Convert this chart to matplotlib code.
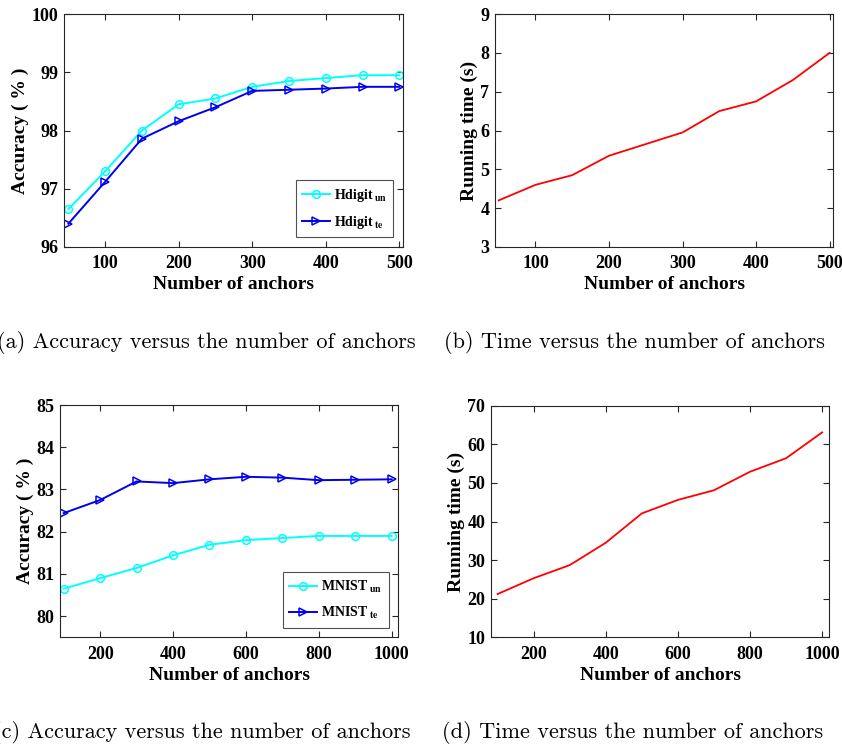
import matplotlib
matplotlib.use('Agg')
import matplotlib.pyplot as plt

# (a) Hdigit accuracy
hd_anchors = [50, 100, 150, 200, 250, 300, 350, 400, 450, 500]
hd_acc_un = [96.65, 97.3, 98.0, 98.45, 98.55, 98.75, 98.85, 98.9, 98.95, 98.95]
hd_acc_te = [96.4, 97.12, 97.86, 98.16, 98.4, 98.68, 98.7, 98.72, 98.75, 98.75]

# (b) Hdigit running time
hd_time = [4.2, 4.6, 4.85, 5.35, 5.65, 5.95, 6.5, 6.75, 7.3, 8.0]

# (c) MNIST accuracy
mn_anchors = [100, 200, 300, 400, 500, 600, 700, 800, 900, 1000]
mn_acc_un = [80.65, 80.9, 81.14, 81.44, 81.69, 81.8, 81.85, 81.9, 81.9, 81.9]
mn_acc_te = [82.44, 82.75, 83.19, 83.15, 83.24, 83.3, 83.28, 83.22, 83.23, 83.24]

# (d) MNIST running time
mn_time = [21.2, 25.3, 28.7, 34.5, 42.1, 45.6, 48.1, 52.9, 56.4, 63.1]

captions = ['(a) Accuracy versus the number of anchors',
            '(b) Time versus the number of anchors',
            '(c) Accuracy versus the number of anchors',
            '(d) Time versus the number of anchors']

plt.rcParams['font.family'] = 'Liberation Serif'
plt.rcParams['font.weight'] = 'bold'
plt.rcParams['mathtext.fontset'] = 'stix'

fig = plt.figure(figsize=(8.42, 7.5), dpi=100)

ax_a = fig.add_axes([0.076, 0.6707, 0.4026, 0.3106])
ax_b = fig.add_axes([0.5879, 0.6707, 0.4018, 0.3106])
ax_c = fig.add_axes([0.0713, 0.1503, 0.4017, 0.3097])
ax_d = fig.add_axes([0.5828, 0.1503, 0.4022, 0.3087])


def style(ax):
    ax.tick_params(direction='in', top=True, right=True, labelsize=13,
                   length=4, width=0.8, colors='#262626', labelcolor='black', pad=4)
    ax.tick_params(axis='x', pad=6)
    for s in ax.spines.values():
        s.set_color('#262626')
        s.set_linewidth(0.8)
    for lab in ax.get_xticklabels() + ax.get_yticklabels():
        lab.set_fontweight('bold')
    ax.set_xlabel('Number of anchors', fontsize=14, fontweight='bold', labelpad=3)


def acc_plot(ax, xs, un, te, name):
    ax.plot(xs, un, color='cyan', lw=1.4, marker='o', ms=5.5, mfc='none',
            mew=1.1, label=name + r'$_{\ \mathbf{un}}$')
    ax.plot(xs, te, color='#0000ee', lw=1.4, marker='>', ms=5.5, mfc='none',
            mew=1.1, label=name + r'$_{\ \mathbf{te}}$')
    ax.set_ylabel('Accuracy ( % )', fontsize=14, fontweight='bold', labelpad=2)
    leg = ax.legend(loc='lower right', fontsize=10, frameon=True, fancybox=False,
                    edgecolor='#262626', handlelength=2.0, handletextpad=0.3,
                    borderpad=0.45, labelspacing=0.75, borderaxespad=0.7)
    leg.get_frame().set_linewidth(0.8)
    for t in leg.get_texts():
        t.set_fontweight('bold')


acc_plot(ax_a, hd_anchors, hd_acc_un, hd_acc_te, 'Hdigit')
ax_a.set_xlim(44, 505)
ax_a.set_ylim(96, 100)
ax_a.set_xticks([100, 200, 300, 400, 500])
ax_a.set_yticks([96, 97, 98, 99, 100])
style(ax_a)

ax_b.plot(hd_anchors, hd_time, color='red', lw=1.3)
ax_b.set_xlim(45, 505)
ax_b.set_ylim(3, 9)
ax_b.set_xticks([100, 200, 300, 400, 500])
ax_b.set_yticks([3, 4, 5, 6, 7, 8, 9])
ax_b.set_ylabel('Running time (s)', fontsize=14, fontweight='bold', labelpad=2)
style(ax_b)

acc_plot(ax_c, mn_anchors, mn_acc_un, mn_acc_te, 'MNIST')
ax_c.set_xlim(90, 1018)
ax_c.set_ylim(79.5, 85)
ax_c.set_xticks([200, 400, 600, 800, 1000])
ax_c.set_yticks([80, 81, 82, 83, 84, 85])
style(ax_c)

ax_d.plot(mn_anchors, mn_time, color='red', lw=1.3)
ax_d.set_xlim(81, 1020)
ax_d.set_ylim(10, 70)
ax_d.set_xticks([200, 400, 600, 800, 1000])
ax_d.set_yticks([10, 20, 30, 40, 50, 60, 70])
ax_d.set_ylabel('Running time (s)', fontsize=14, fontweight='bold', labelpad=2)
style(ax_d)

cap_font = dict(family='cmr10', fontsize=16, fontweight='normal', ha='center', va='center')
fig.text(0.245, 0.5427, captions[0], **cap_font)
fig.text(0.754, 0.5427, captions[1], **cap_font)
fig.text(0.240, 0.0227, captions[2], **cap_font)
fig.text(0.751, 0.0227, captions[3], **cap_font)

fig.savefig('out.png', dpi=100)
